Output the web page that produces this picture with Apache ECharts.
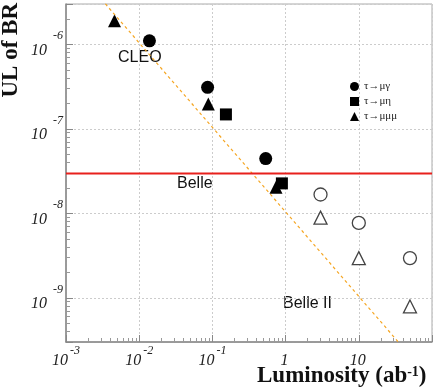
<!DOCTYPE html>
<html>
<head>
<meta charset="utf-8">
<script src="https://cdn.jsdelivr.net/npm/echarts@6/dist/echarts.min.js"></script>
<style>
  html, body { margin: 0; padding: 0; background: #fff; }
  #chart { width: 436px; height: 390px; }
</style>
</head>
<body>
<div id="chart"></div>
<script>
  // 测量值 (实心点)
  var muGammaLumi = [0.0138, 0.086, 0.535];
  var muGammaUL = [1.1e-6, 3.1e-7, 4.45e-8];
  var muEtaLumi = [0.153, 0.89];
  var muEtaUL = [1.48e-7, 2.26e-8];
  var muMuMuLumi = [0.0046, 0.088, 0.74];
  var muMuMuUL = [1.9e-6, 1.96e-7, 2.03e-8];
  // Belle II 预期 (空心点)
  var b2Lumi = [3, 10, 50];
  var b2MuGammaUL = [1.67e-8, 7.7e-9, 2.95e-9];
  var b2MuMuMuUL = [8.9e-9, 2.95e-9, 7.9e-10];
  // Belle 水平线 & 1/L 虚线
  var belleLine = 2.95e-8;
  var scaleLumi = [1e-3, 100];
  var scaleUL = [1.04e-5, 1.04e-10];

  function pairs(xs, ys) {
    return xs.map(function (x, i) { return [x, ys[i]]; });
  }

  var serif = 'Liberation Serif';
  var myChart = echarts.init(document.getElementById('chart'));

  var filledStyle = {color: '#000', opacity: 1};
  var openStyle = {color: '#fff', borderColor: '#444', borderWidth: 1.3, opacity: 1};

  myChart.setOption({
    animation: false,
    grid: {left: 66, top: 4, right: 4, bottom: 48, show: true, borderColor: '#aaa', borderWidth: 1},
    legend: {
      orient: 'vertical',
      left: 345, top: 76,
      itemWidth: 9, itemHeight: 9, itemGap: 4,
      textStyle: {fontFamily: serif, fontSize: 11, color: '#222'},
      data: ['τ→μγ', 'τ→μη', 'τ→μμμ']
    },
    xAxis: {
      type: 'log',
      min: 1e-3, max: 100,
      axisLine: {lineStyle: {color: '#888', width: 1.5}},
      axisTick: {inside: true, length: 7, lineStyle: {color: '#888'}},
      minorTick: {show: true, splitNumber: 9, length: 4, lineStyle: {color: '#999'}},
      splitLine: {show: true, lineStyle: {color: '#ccc', type: [2, 2]}},
      axisLabel: {
        margin: 3,
        formatter: function (v) {
          var e = Math.round(Math.log10(v));
          if (e === 0) return '{b|1}';
          if (e === 1) return '{b|10}';
          if (e === 2) return '';
          return '{b|10}{s|' + e + '}';
        },
        rich: {
          b: {fontFamily: serif, fontStyle: 'italic', fontSize: 16, color: '#222', padding: [8, 2, 0, 0]},
          s: {fontFamily: serif, fontStyle: 'italic', fontSize: 12, color: '#222', verticalAlign: 'top'}
        }
      }
    },
    yAxis: {
      type: 'log',
      min: 3e-10, max: 3e-6,
      axisLine: {show: true, lineStyle: {color: '#888', width: 1.5}},
      axisTick: {inside: true, length: 7, lineStyle: {color: '#888'}},
      minorTick: {show: true, splitNumber: 9, length: 4, lineStyle: {color: '#999'}},
      splitLine: {show: true, lineStyle: {color: '#ccc', type: [2, 2]}},
      axisLabel: {
        margin: 3,
        showMinLabel: false, showMaxLabel: false,
        formatter: function (v) {
          var e = Math.round(Math.log10(v));
          return '{b|10}{s|  ' + e + '}';
        },
        rich: {
          b: {fontFamily: serif, fontStyle: 'italic', fontSize: 16, color: '#222', padding: [12, 0, 0, 0]},
          s: {fontFamily: serif, fontStyle: 'italic', fontSize: 12, color: '#222', verticalAlign: 'top'}
        }
      }
    },
    graphic: [
      {type: 'text', left: 0, top: 3, rotation: Math.PI / 2,
        style: {text: 'UL of BR', font: 'bold 23px "Liberation Serif"', fill: '#111'}},
      {type: 'text', x: 257, y: 365,
        style: {
          text: '{m|Luminosity (ab}{s|-1}{m|)}',
          rich: {
            m: {font: 'bold 23px "Liberation Serif"', fill: '#111'},
            s: {font: 'bold 14px "Liberation Serif"', fill: '#111', verticalAlign: 'top'}
          }
        }},
      {type: 'text', x: 118, y: 50, style: {text: 'CLEO', font: '16px "Liberation Sans"', fill: '#111'}},
      {type: 'text', x: 177, y: 176, style: {text: 'Belle', font: '16px "Liberation Sans"', fill: '#111'}},
      {type: 'text', x: 283, y: 296, style: {text: 'Belle II', font: '16px "Liberation Sans"', fill: '#111'}}
    ],
    series: [
      {
        name: 'scaling', type: 'line', data: pairs(scaleLumi, scaleUL),
        symbol: 'none', clip: true,
        lineStyle: {color: '#f5a623', width: 1.2, type: [3, 3]}
      },
      {
        name: 'belle', type: 'line', data: [[1e-3, belleLine], [100, belleLine]],
        symbol: 'none', lineStyle: {color: '#e8201c', width: 2}
      },
      {name: 'τ→μγ', type: 'scatter', symbol: 'circle', symbolSize: 13, data: pairs(muGammaLumi, muGammaUL), itemStyle: filledStyle},
      {name: 'τ→μη', type: 'scatter', symbol: 'rect', symbolSize: 12, data: pairs(muEtaLumi, muEtaUL), itemStyle: filledStyle},
      {name: 'τ→μμμ', type: 'scatter', symbol: 'triangle', symbolSize: 13, data: pairs(muMuMuLumi, muMuMuUL), itemStyle: filledStyle},
      {name: 'b2 μγ', type: 'scatter', symbol: 'circle', symbolSize: 13, data: pairs(b2Lumi, b2MuGammaUL), itemStyle: openStyle},
      {name: 'b2 μμμ', type: 'scatter', symbol: 'triangle', symbolSize: 13, data: pairs(b2Lumi, b2MuMuMuUL), itemStyle: openStyle}
    ]
  });
</script>
</body>
</html>
